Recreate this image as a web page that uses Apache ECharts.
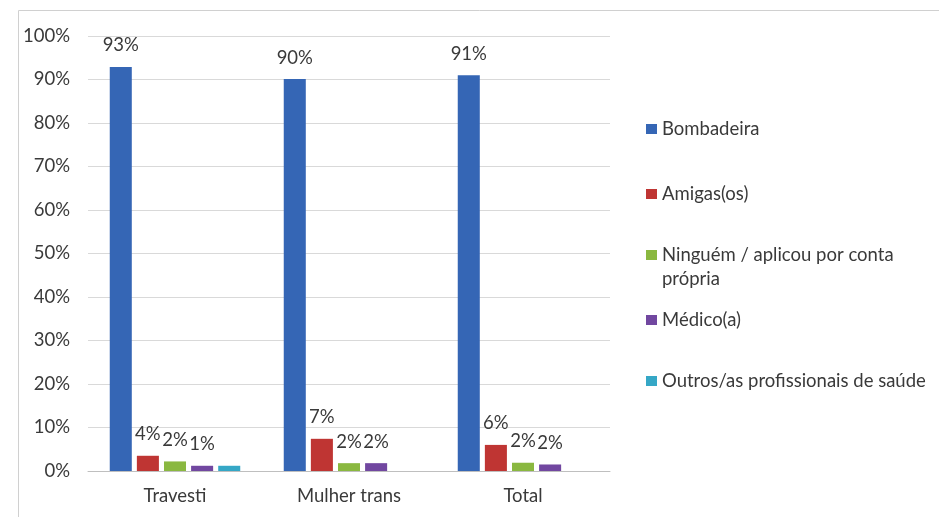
<!DOCTYPE html>
<html><head><meta charset="utf-8">
<script src="https://cdn.jsdelivr.net/npm/echarts@6/dist/echarts.min.js"></script>
<style>html,body{margin:0;padding:0;background:#fff}#c{width:939px;height:517px}</style>
</head><body><div id="c"></div>
<script>
const categories = ['Travesti', 'Mulher trans', 'Total'];
const seriesNames = ['Bombadeira', 'Amigas(os)', 'Ninguém / aplicou por conta própria', 'Médico(a)', 'Outros/as profissionais de saúde'];
const bombadeira = [92.9, 90.1, 91.0];
const amigas = [3.5, 7.4, 6.0];
const ninguem = [2.2, 1.8, 1.9];
const medico = [1.2, 1.8, 1.5];
const outros = [1.2, 0, 0];
const labelsShown = [[true,true,true],[true,true,true],[true,true,true],[true,true,true],[false,false,false]];
const yTicks = [0,10,20,30,40,50,60,70,80,90,100];
const colors = ['#3566b5', '#bf3533', '#8ab840', '#7147a0', '#35a7c6'];
const allValues = [bombadeira, amigas, ninguem, medico, outros];

const font = 'Lato, "Open Sans", sans-serif';
const fs = 18.5;
const txt = '#3a3a3a';
const chart = echarts.init(document.getElementById('c'));
const legendTops = [111, 176, 237, 302, 363];
const series = seriesNames.map((n, i) => ({
  name: n, type: 'bar',
  barGap: '23%', barCategoryGap: '25%',
  itemStyle: { color: colors[i] },
  data: allValues[i].map((v, j) => ({
    value: v,
    itemStyle: v === 0 ? { opacity: 0 } : undefined,
    label: { show: labelsShown[i][j] && v > 0 }
  })),
  label: {
    position: 'top', distance: 12, color: txt, fontSize: fs, fontFamily: font,
    formatter: p => Math.round(p.value) + '%'
  }
}));
chart.setOption({
  animation: false,
  graphic: [
    { type: 'rect', shape: { x: 18.5, y: 10.5, width: 940, height: 520 }, style: { fill: 'none', stroke: '#d0d0d0', lineWidth: 1 } },
    { type: 'text', left: 662, top: 270, style: { text: 'própria', fill: txt, fontSize: fs, fontFamily: font } }
  ],
  grid: { left: 88, right: 329, top: 36, bottom: 46 },
  xAxis: {
    type: 'category', data: categories,
    axisTick: { show: false },
    axisLine: { lineStyle: { color: '#bfbfbf' } },
    axisLabel: { color: txt, fontSize: fs, fontFamily: font, margin: 16 }
  },
  yAxis: {
    type: 'value', min: 0, max: 100, interval: 10,
    axisLabel: { color: txt, fontSize: fs, fontFamily: font, margin: 18, formatter: v => v + '%' },
    splitLine: { lineStyle: { color: '#d9d9d9' } },
    axisLine: { show: false }, axisTick: { show: false }
  },
  legend: seriesNames.map((n, i) => ({
    data: [n], left: 641, top: legendTops[i], orient: 'vertical',
    itemWidth: 11, itemHeight: 10, itemGap: 5, icon: 'rect',
    formatter: name => name === 'Ninguém / aplicou por conta própria' ? 'Ninguém / aplicou por conta' : name,
    textStyle: { color: txt, fontSize: fs, fontFamily: font, lineHeight: 26 }
  })),
  series
});
</script></body></html>
